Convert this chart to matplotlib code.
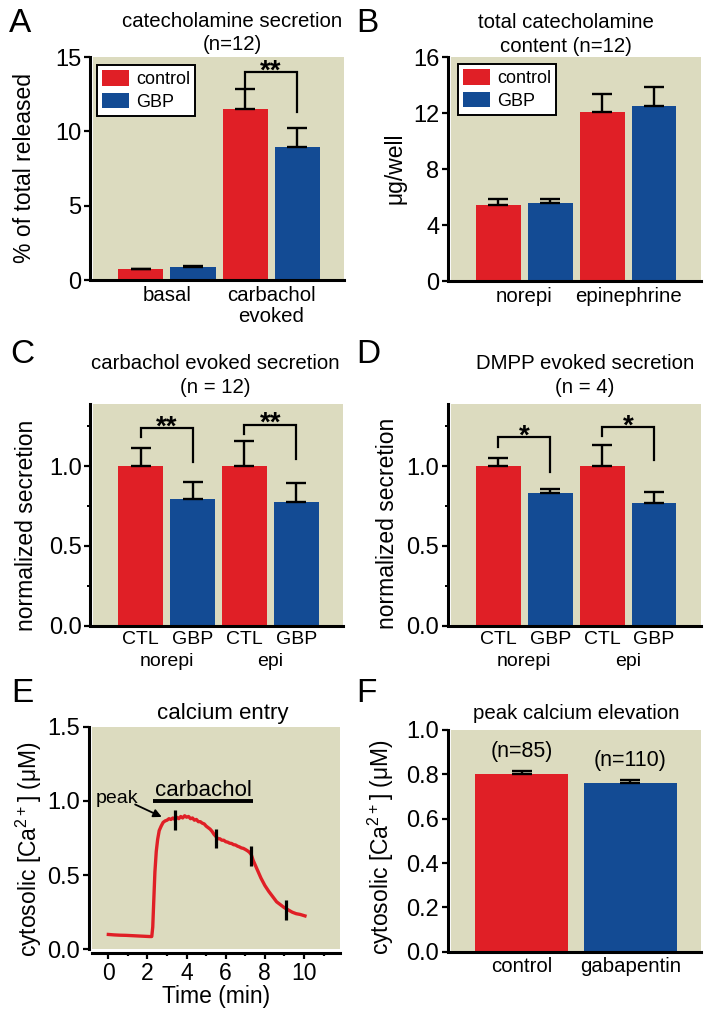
import matplotlib
matplotlib.use('Agg')
import matplotlib.pyplot as plt
from matplotlib.transforms import offset_copy
from matplotlib.ticker import FormatStrFormatter, MultipleLocator

plt.rcParams['font.family'] = ['Liberation Sans', 'DejaVu Sans']
plt.rcParams['mathtext.default'] = 'regular'

W, H = 714, 1019
RED = '#E01F26'
BLUE = '#134B94'
BG = '#DCDBBF'

# ---------------- data ----------------
# Panel A
a_groups = ['basal', 'carbachol\nevoked']
a_series = ['control', 'GBP']
a_control = [0.72, 11.5]
a_control_err = [0.05, 1.35]
a_gbp = [0.85, 8.97]
a_gbp_err = [0.06, 1.23]
a_sig_labels = ['**']
a_sig_top = [14.0]
a_sig_left_bottom = [12.85]
a_sig_right_bottom = [11.3]

# Panel B
b_groups = ['norepi', 'epinephrine']
b_control = [5.45, 12.1]
b_control_err = [0.38, 1.25]
b_gbp = [5.55, 12.5]
b_gbp_err = [0.35, 1.38]

# Panel C
c_bar_labels = ['CTL', 'GBP', 'CTL', 'GBP']
c_groups = ['norepi', 'epi']
c_values = [1.0, 0.793, 1.0, 0.773]
c_errs = [0.111, 0.109, 0.158, 0.121]
c_sig_labels = ['**', '**']
c_sig_top = [1.24, 1.261]
c_sig_left_bottom = [1.183, 1.205]
c_sig_right_bottom = [1.027, 1.048]

# Panel D
d_bar_labels = ['CTL', 'GBP', 'CTL', 'GBP']
d_groups = ['norepi', 'epi']
d_values = [1.0, 0.833, 1.0, 0.768]
d_errs = [0.054, 0.021, 0.136, 0.069]
d_sig_labels = ['*', '*']
d_sig_top = [1.18, 1.246]
d_sig_left_bottom = [1.121, 1.188]
d_sig_right_bottom = [0.964, 1.038]

# Panel E (calcium trace)
e_time = [0.0, 0.3, 0.6, 0.9, 1.2, 1.5, 1.8, 2.1, 2.22, 2.27, 2.32, 2.38, 2.45,
          2.52, 2.6, 2.7, 2.8, 2.9, 3.0, 3.1, 3.2, 3.3, 3.4, 3.5, 3.6, 3.7, 3.8,
          3.9, 4.0, 4.1, 4.2, 4.3, 4.4, 4.5, 4.6, 4.7, 4.8, 4.9, 5.0, 5.1, 5.2,
          5.3, 5.4, 5.5, 5.6, 5.7, 5.8, 5.9, 6.0, 6.1, 6.2, 6.3, 6.4, 6.5, 6.6,
          6.7, 6.8, 6.9, 7.0, 7.1, 7.2, 7.3, 7.4, 7.5, 7.6, 7.7, 7.8, 7.9, 8.0,
          8.2, 8.4, 8.6, 8.8, 9.0, 9.2, 9.4, 9.6, 9.8, 10.05]
e_ca = [0.100, 0.097, 0.095, 0.094, 0.092, 0.090, 0.088, 0.086, 0.086, 0.15,
        0.32, 0.52, 0.66, 0.74, 0.80, 0.83, 0.855, 0.865, 0.87, 0.88, 0.875,
        0.885, 0.875, 0.89, 0.88, 0.895, 0.885, 0.90, 0.89, 0.895, 0.88, 0.885,
        0.87, 0.875, 0.86, 0.86, 0.85, 0.845, 0.83, 0.82, 0.81, 0.795, 0.775,
        0.76, 0.745, 0.745, 0.735, 0.735, 0.725, 0.722, 0.715, 0.713, 0.705,
        0.703, 0.695, 0.69, 0.683, 0.68, 0.673, 0.665, 0.655, 0.64, 0.60, 0.57,
        0.54, 0.51, 0.48, 0.455, 0.43, 0.39, 0.355, 0.32, 0.30, 0.28, 0.265,
        0.25, 0.24, 0.235, 0.225]
e_marker_times = [3.4, 5.5, 7.3, 9.1]
e_marker_centers = [0.874, 0.747, 0.626, 0.267]
e_stim_label = 'carbachol'
e_stim_start, e_stim_end = 2.27, 7.41

# Panel F
f_labels = ['control', 'gabapentin']
f_values = [0.80, 0.761]
f_errs = [0.016, 0.013]
f_n = ['(n=85)', '(n=110)']

# ---------------- helpers ----------------
fig = plt.figure(figsize=(W / 100, H / 100), dpi=100)


def rect(l, t, r, b):
    return [l / W, 1 - b / H, (r - l) / W, (b - t) / H]


def ftext(x, y, s, **kw):
    fig.text(x / W, 1 - y / H, s, **kw)


def style(ax):
    ax.set_facecolor(BG)
    for s in ['top', 'right']:
        ax.spines[s].set_visible(False)
    ax.spines['left'].set_position(('outward', 2.2))
    for s in ['left', 'bottom']:
        ax.spines[s].set_linewidth(2.2)
    ax.tick_params(axis='y', direction='out', length=4, width=1.6,
                   labelsize=17, pad=2)
    ax.tick_params(axis='y', which='minor', direction='out', length=2.5, width=1.4)
    ax.tick_params(axis='x', length=0, labelsize=14.7, pad=4)


EKW = dict(elinewidth=1.7, capthick=1.7, ecolor='black')
BW = 0.865


def brackets(ax, pairs, tops, lefts, rights, labels):
    fs = 20
    for (x0, x1), t, lb, rb, lab in zip(pairs, tops, lefts, rights, labels):
        ax.plot([x0, x0, x1, x1], [lb, t, t, rb], color='black', lw=1.6,
                solid_joinstyle='miter', zorder=4)
        tr = offset_copy(ax.transData, fig=fig, y=7.0 - 0.58 * fs, units='points')
        ax.text((x0 + x1) / 2, t, lab, transform=tr, ha='center', va='baseline',
                fontsize=fs, fontweight='bold')


def legend(ax, x, y):
    lg = ax.legend(loc='upper left', bbox_to_anchor=(x / W, 1 - y / H),
                   bbox_transform=fig.transFigure, fontsize=13, frameon=True,
                   fancybox=False, edgecolor='black', framealpha=1,
                   borderpad=0.3, handlelength=1.45, handleheight=0.95,
                   handletextpad=0.4, labelspacing=0.25, borderaxespad=0)
    lg.get_frame().set_linewidth(1.4)


# ---------------- Panel A ----------------
axA = fig.add_axes(rect(93, 57, 344, 280))
style(axA)
xc = [0, 2]
xg = [1, 3]
axA.bar(xc, a_control, BW, color=RED, label=a_series[0],
        yerr=[[0] * 2, a_control_err], capsize=7.5, error_kw=EKW)
axA.bar(xg, a_gbp, BW, color=BLUE, label=a_series[1],
        yerr=[[0] * 2, a_gbp_err], capsize=7.5, error_kw=EKW)
axA.set_xlim(-0.92, 3.9)
axA.set_ylim(0, 15)
axA.set_yticks([0, 5, 10, 15])
axA.set_xticks([0.5, 2.5])
axA.set_xticklabels(a_groups, linespacing=1.15)
brackets(axA, [(2, 3)], a_sig_top, a_sig_left_bottom, a_sig_right_bottom, a_sig_labels)
legend(axA, 97, 65)

# ---------------- Panel B ----------------
axB = fig.add_axes(rect(450.7, 57.3, 700.7, 281))
style(axB)
axB.bar(xc, b_control, BW, color=RED, label='control',
        yerr=[[0] * 2, b_control_err], capsize=7.5, error_kw=EKW)
axB.bar(xg, b_gbp, BW, color=BLUE, label='GBP',
        yerr=[[0] * 2, b_gbp_err], capsize=7.5, error_kw=EKW)
axB.set_xlim(-0.92, 3.9)
axB.set_ylim(0, 16)
axB.set_yticks([0, 4, 8, 12, 16])
axB.set_xticks([0.5, 2.5])
axB.set_xticklabels(b_groups)
legend(axB, 458, 64)

# ---------------- Panel C & D ----------------
def norm_panel(ax, labels, groups, vals, errs, tops, lefts, rights, sig):
    style(ax)
    x = [0, 1, 2, 3]
    ax.bar(x, vals, BW, color=[RED, BLUE, RED, BLUE],
           yerr=[[0] * 4, errs], capsize=7.5, error_kw=EKW)
    ax.set_xlim(-0.92, 3.9)
    ax.set_ylim(0, 1.39)
    ax.set_yticks([0, 0.5, 1.0])
    ax.yaxis.set_minor_locator(MultipleLocator(0.25))
    ax.yaxis.set_major_formatter(FormatStrFormatter('%.1f'))
    ax.set_xticks(x)
    ax.set_xticklabels(labels, fontsize=14)
    tr = ax.get_xaxis_transform()
    for gx, g in zip([0.5, 2.5], groups):
        ax.text(gx, -0.163, g, transform=tr, ha='center', va='center', fontsize=14)
    brackets(ax, [(0, 1), (2, 3)], tops, lefts, rights, sig)


axC = fig.add_axes(rect(93, 404, 343, 625.7))
norm_panel(axC, c_bar_labels, c_groups, c_values, c_errs,
           c_sig_top, c_sig_left_bottom, c_sig_right_bottom, c_sig_labels)
axD = fig.add_axes(rect(450.7, 404, 700.7, 625.7))
norm_panel(axD, d_bar_labels, d_groups, d_values, d_errs,
           d_sig_top, d_sig_left_bottom, d_sig_right_bottom, d_sig_labels)

# ---------------- Panel E ----------------
axE = fig.add_axes(rect(91.7, 726.7, 340, 949.3))
style(axE)
axE.spines['bottom'].set_position(('outward', 3))
axE.plot(e_time, e_ca, color=RED, lw=2.4, zorder=3)
axE.vlines(e_marker_times, [c - 0.067 for c in e_marker_centers],
           [c + 0.067 for c in e_marker_centers], color='black', lw=2.3, zorder=4)
axE.plot([e_stim_start, e_stim_end], [1.0, 1.0], color='black', lw=2.8,
         solid_capstyle='butt')
axE.text((e_stim_start + e_stim_end) / 2, 1.035, e_stim_label, ha='center',
         va='baseline', fontsize=16)
axE.text(0.43, 0.988, 'peak', ha='center', va='baseline', fontsize=14)
axE.annotate('', xy=(2.73, 0.892), xytext=(1.37, 0.976),
             arrowprops=dict(arrowstyle='-|>', color='black', lw=1.3,
                             mutation_scale=12, shrinkA=0, shrinkB=0))
axE.set_xlim(-0.85, 11.84)
axE.set_ylim(0, 1.5)
axE.set_yticks([0, 0.5, 1.0, 1.5])
axE.yaxis.set_major_formatter(FormatStrFormatter('%.1f'))
axE.set_xticks([0, 2, 4, 6, 8, 10])
axE.xaxis.set_minor_locator(MultipleLocator(1))
axE.tick_params(axis='x', which='major', direction='out', length=4, width=1.6,
                labelsize=16.5, pad=2)
axE.tick_params(axis='x', which='minor', direction='out', length=2.5, width=1.6)
axE.set_xlabel('Time (min)', fontsize=16.5, labelpad=0)

# ---------------- Panel F ----------------
axF = fig.add_axes(rect(450.7, 730, 700.7, 951.7))
style(axF)
axF.bar([0, 1], f_values, 0.855, color=[RED, BLUE],
        yerr=[[0, 0], f_errs], capsize=7.5, error_kw=EKW)
for i, (v, e, n) in enumerate(zip(f_values, f_errs, f_n)):
    axF.text(i, v + e + 0.087, n, ha='center', va='center', fontsize=15.5)
axF.set_xlim(-0.65, 1.645)
axF.set_ylim(0, 1.0)
axF.set_yticks([0, 0.2, 0.4, 0.6, 0.8, 1.0])
axF.yaxis.set_major_formatter(FormatStrFormatter('%.1f'))
axF.set_xticks([0, 1])
axF.set_xticklabels(f_labels)

# ---------------- titles, labels, letters ----------------
TFS = 14.7
ftext(232, 26.7, 'catecholamine secretion', ha='center', va='baseline', fontsize=TFS)
ftext(232, 50, '(n=12)', ha='center', va='baseline', fontsize=TFS)
ftext(565.7, 28.3, 'total catecholamine', ha='center', va='baseline', fontsize=TFS)
ftext(565.7, 52, 'content (n=12)', ha='center', va='baseline', fontsize=TFS)
ftext(215, 369.3, 'carbachol evoked secretion', ha='center', va='baseline', fontsize=TFS)
ftext(215, 393.3, '(n = 12)', ha='center', va='baseline', fontsize=TFS)
ftext(585, 369.3, 'DMPP evoked secretion', ha='center', va='baseline', fontsize=TFS)
ftext(585, 393.3, '(n = 4)', ha='center', va='baseline', fontsize=TFS)
ftext(223, 719, 'calcium entry', ha='center', va='baseline', fontsize=16)
ftext(576.7, 719.3, 'peak calcium elevation', ha='center', va='baseline', fontsize=TFS)

YFS = 16.5
CA_LABEL = r'cytosolic [$Ca^{2+}$] (μM)'
ftext(25, 168, '% of total released', rotation=90, ha='center', va='center', fontsize=YFS)
ftext(395, 168, 'μg/well', rotation=90, ha='center', va='center', fontsize=YFS)
ftext(27, 525, 'normalized secretion', rotation=90, ha='center', va='center', fontsize=YFS)
ftext(388, 523, 'normalized secretion', rotation=90, ha='center', va='center', fontsize=YFS)
ftext(29, 849, CA_LABEL, rotation=90, ha='center', va='center', fontsize=YFS)
ftext(381, 847, CA_LABEL, rotation=90, ha='center', va='center', fontsize=YFS)

LFS = 24
ftext(9, 32, 'A', ha='left', va='baseline', fontsize=LFS)
ftext(356, 32, 'B', ha='left', va='baseline', fontsize=LFS)
ftext(10, 363, 'C', ha='left', va='baseline', fontsize=LFS)
ftext(356, 363, 'D', ha='left', va='baseline', fontsize=LFS)
ftext(11, 702, 'E', ha='left', va='baseline', fontsize=LFS)
ftext(356, 702, 'F', ha='left', va='baseline', fontsize=LFS)

fig.savefig('out.png', dpi=100, facecolor='white')
